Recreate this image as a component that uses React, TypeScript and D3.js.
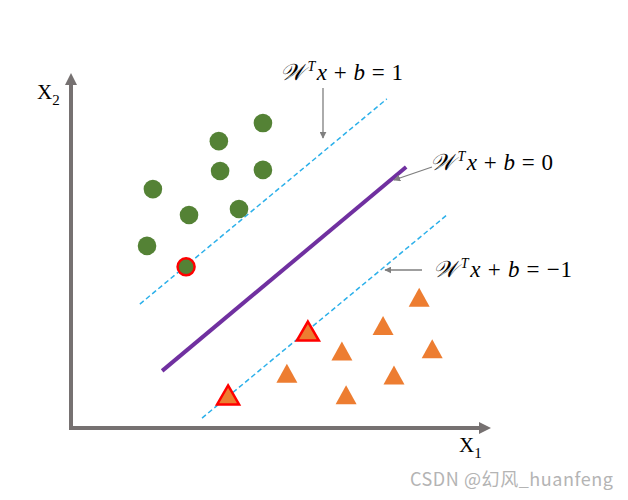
import React from "react";
import * as d3 from "d3";

const W = 628;
const H = 500;

// data units: x 0..100, y 0..100
const circleX = [45.7, 35.2, 35.5, 45.7, 19.5, 28.1, 40.0, 18.1, 27.4];
const circleY = [85.9, 80.8, 72.4, 72.7, 67.3, 60.0, 61.7, 51.3, 45.4];
const circleSupport = [false, false, false, false, false, false, false, false, true];

const triX = [82.9, 74.3, 64.5, 86.0, 51.4, 76.9, 65.5, 56.4, 37.4];
const triY = [36.8, 28.9, 21.7, 22.3, 15.4, 14.9, 9.4, 27.3, 9.3];
const triSupport = [false, false, false, false, false, false, false, true, true];

const hyperX = [21.7, 79.8];
const hyperY = [16.1, 73.5];
const upperX = [16.4, 75.2];
const upperY = [34.9, 92.7];
const lowerX = [31.2, 89.8];
const lowerY = [2.8, 60.3];

const labelOffsets = ["1", "0", "\u22121"];

export default function App() {
  const x = d3.scaleLinear().domain([0, 100]).range([71, 491]);
  const y = d3.scaleLinear().domain([0, 100]).range([428, 73]);
  const line = d3
    .line<[number, number]>()
    .x((d) => x(d[0]))
    .y((d) => y(d[1]));

  const seg = (xs: number[], ys: number[]) =>
    line(xs.map((v, i) => [v, ys[i]] as [number, number])) || "";

  const triPath = (cx: number, cy: number, w: number, h: number) =>
    `M${cx},${cy - h / 2}L${cx + w / 2},${cy + h / 2}L${cx - w / 2},${cy + h / 2}Z`;

  const mathFont = "'Liberation Serif', 'DejaVu Serif', serif";

  const label = (lx: number, ly: number, rhs: string, len: number) => (
    <text x={lx} y={ly} fontFamily={mathFont} fontSize={23} fill="#000" textLength={len} lengthAdjust="spacing">
      <tspan fontStyle="italic">𝒲</tspan>
      <tspan fontSize={14} fontStyle="italic" dx={3} dy={-9}>T</tspan>
      <tspan fontStyle="italic" dx={1} dy={9}>x</tspan>
      <tspan>{" + "}</tspan>
      <tspan fontStyle="italic">b</tspan>
      <tspan>{` = ${rhs}`}</tspan>
    </text>
  );

  return (
    <svg width={W} height={H} style={{ display: "block", position: "absolute", left: 0, top: 0 }}>
      <defs>
        <marker id="ah" viewBox="0 0 10 10" refX="9" refY="5" markerWidth="7" markerHeight="7" orient="auto" markerUnits="userSpaceOnUse">
          <path d="M0,0L10,5L0,10Z" fill="#7f7f7f" />
        </marker>
      </defs>
      <rect width={W} height={H} fill="#fff" />

      {/* axes */}
      <line x1={x(0)} y1={y(0)} x2={x(0)} y2={y(100) + 10} stroke="#767171" strokeWidth={4} />
      <path d={`M${x(0)},${y(100)}L${x(0) + 6},${y(100) + 12}L${x(0) - 6},${y(100) + 12}Z`} fill="#767171" />
      <line x1={x(0) - 2} y1={y(0)} x2={x(100) - 10} y2={y(0)} stroke="#767171" strokeWidth={4} />
      <path d={`M${x(100)},${y(0)}L${x(100) - 12},${y(0) - 6}L${x(100) - 12},${y(0) + 6}Z`} fill="#767171" />

      <text x={37} y={99} fontFamily="'Liberation Serif', serif" fontSize={21} fill="#000">
        X<tspan fontSize={15} dy={6}>2</tspan>
      </text>
      <text x={459} y={452} fontFamily="'Liberation Serif', serif" fontSize={21} fill="#000">
        X<tspan fontSize={15} dy={6}>1</tspan>
      </text>

      {/* margin lines */}
      <path d={seg(upperX, upperY)} stroke="#2cb0ea" strokeWidth={1.5} strokeDasharray="5,3" fill="none" />
      <path d={seg(lowerX, lowerY)} stroke="#2cb0ea" strokeWidth={1.5} strokeDasharray="5,3" fill="none" />
      <path d={seg(hyperX, hyperY)} stroke="#7030a0" strokeWidth={4} fill="none" />

      {/* circles */}
      {circleX.map((cx, i) => (
        <circle
          key={"c" + i}
          cx={x(cx)}
          cy={y(circleY[i])}
          r={circleSupport[i] ? 8.5 : 9.3}
          fill="#548235"
          stroke={circleSupport[i] ? "#ff0000" : "none"}
          strokeWidth={circleSupport[i] ? 2.5 : 0}
        />
      ))}

      {/* triangles */}
      {triX.map((tx, i) => (
        <path
          key={"t" + i}
          d={triSupport[i] ? triPath(x(tx), y(triY[i]), 22, 19) : triPath(x(tx), y(triY[i]), 21, 19)}
          fill="#ed7d31"
          stroke={triSupport[i] ? "#ff0000" : "none"}
          strokeWidth={triSupport[i] ? 2.5 : 0}
          strokeLinejoin="miter"
        />
      ))}

      {/* annotations */}
      <line x1={323} y1={88} x2={323} y2={138} stroke="#7f7f7f" strokeWidth={1.3} markerEnd="url(#ah)" />
      <line x1={432} y1={167} x2={394} y2={180} stroke="#7f7f7f" strokeWidth={1.3} markerEnd="url(#ah)" />
      <line x1={422} y1={270} x2={385} y2={270} stroke="#7f7f7f" strokeWidth={1.3} markerEnd="url(#ah)" />

      {label(280, 80, labelOffsets[0], 123)}
      {label(430, 170, labelOffsets[1], 123)}
      {label(433, 277, labelOffsets[2], 139)}

      <text x={410} y={486} fontFamily="'Noto Sans CJK SC', 'Noto Sans', sans-serif" fontSize={18} fill="#b4b4b4" textLength={203} lengthAdjust="spacing">
        CSDN @幻风_huanfeng
      </text>
    </svg>
  );
}
